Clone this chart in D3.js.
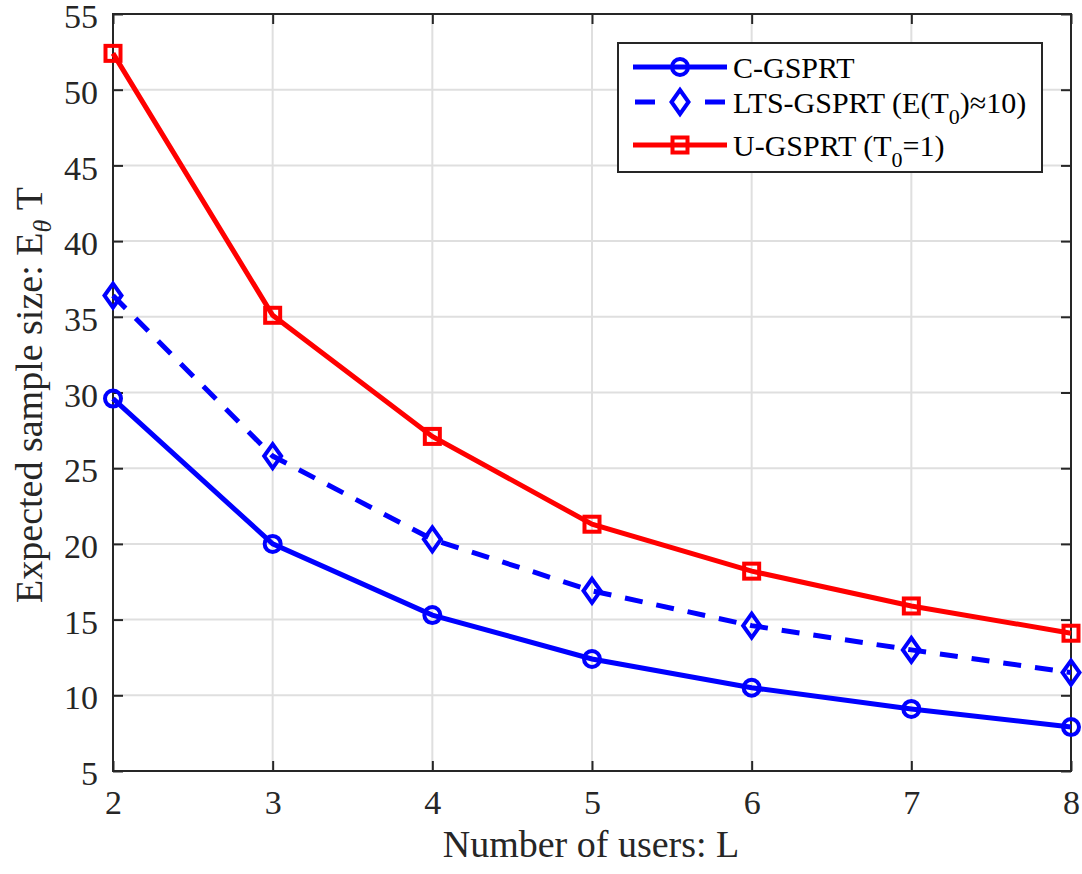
<!DOCTYPE html>
<html>
<head>
<meta charset="utf-8">
<script src="https://cdn.jsdelivr.net/npm/d3@7"></script>
<style>
  body { margin: 0; background: #ffffff; }
  svg text { font-family: "Liberation Serif", "Times New Roman", serif; fill: #262626; }
</style>
</head>
<body>
<svg id="chart" width="1082" height="874"></svg>
<script>
// data
const users = [2, 3, 4, 5, 6, 7, 8];
const cGsprt = [29.6, 20.0, 15.3, 12.4, 10.5, 9.1, 7.9];
const ltsGsprt = [36.4, 25.8, 20.3, 16.9, 14.6, 13.0, 11.5];
const uGsprt = [52.4, 35.1, 27.1, 21.3, 18.2, 15.9, 14.1];
const yTicks = [5, 10, 15, 20, 25, 30, 35, 40, 45, 50, 55];
const xTicks = [2, 3, 4, 5, 6, 7, 8];

const svg = d3.select("#chart");
const pLeft = 113, pRight = 1071, pTop = 14, pBottom = 771;

const x = d3.scaleLinear().domain([2, 8]).range([pLeft, pRight]);
const y = d3.scaleLinear().domain([5, 55]).range([pBottom, pTop]);

// grid
let g_grid = svg.append("g");
g_grid.selectAll("line.gx").data(xTicks).enter().append("line")
    .attr("x1", d => x(d)).attr("x2", d => x(d))
    .attr("y1", pTop).attr("y2", pBottom)
    .attr("stroke", "#dfdfdf").attr("stroke-width", 2);
g_grid.selectAll("line.gy").data(yTicks).enter().append("line")
    .attr("x1", pLeft).attr("x2", pRight)
    .attr("y1", d => y(d)).attr("y2", d => y(d))
    .attr("stroke", "#dfdfdf").attr("stroke-width", 2);

// axes with inward ticks on all sides
const tickLen = 10;
let g_xaxis = svg.append("g").attr("transform", `translate(0,${pBottom})`)
    .call(d3.axisBottom(x).tickValues(xTicks).tickSize(-tickLen).tickPadding(19).tickFormat(d3.format("d")))
    .call(g => g.select(".domain").remove());
svg.append("g").attr("transform", `translate(0,${pTop})`)
    .call(d3.axisTop(x).tickValues(xTicks).tickSize(-tickLen).tickFormat(""))
    .call(g => g.select(".domain").remove());
let g_yaxis = svg.append("g").attr("transform", `translate(${pLeft},0)`)
    .call(d3.axisLeft(y).tickValues(yTicks).tickSize(-tickLen).tickPadding(15).tickFormat(d3.format("d")))
    .call(g => g.select(".domain").remove());
svg.append("g").attr("transform", `translate(${pRight},0)`)
    .call(d3.axisRight(y).tickValues(yTicks).tickSize(-tickLen).tickFormat(""))
    .call(g => g.select(".domain").remove());
svg.selectAll(".tick line").attr("stroke", "#262626").attr("stroke-width", 2);
svg.selectAll(".tick text")
    .style("font-size", "34px")
    .attr("fill", "#262626");
g_yaxis.selectAll(".tick text").attr("dy", "0.4em");

svg.append("rect")
    .attr("x", pLeft).attr("y", pTop)
    .attr("width", pRight - pLeft).attr("height", pBottom - pTop)
    .attr("fill", "none").attr("stroke", "#262626").attr("stroke-width", 2);

// series
const line = d3.line().x((d, i) => x(users[i])).y(d => y(d));
const series = [
    { name: "c", data: cGsprt, color: "#0000ff", dash: null, marker: "circle" },
    { name: "lts", data: ltsGsprt, color: "#0000ff", dash: "18,14", marker: "diamond" },
    { name: "u", data: uGsprt, color: "#ff0000", dash: null, marker: "square" }
];

function fn_marker(g, type, cx, cy, color) {
    if (type == "circle") {
        g.append("circle").attr("cx", cx).attr("cy", cy).attr("r", 8)
            .attr("fill", "none").attr("stroke", color).attr("stroke-width", 4);
    } else if (type == "diamond") {
        g.append("path")
            .attr("d", `M${cx},${cy - 12}L${cx + 8.5},${cy}L${cx},${cy + 12}L${cx - 8.5},${cy}Z`)
            .attr("fill", "none").attr("stroke", color).attr("stroke-width", 4);
    } else {
        g.append("rect").attr("x", cx - 7.5).attr("y", cy - 7.5).attr("width", 15).attr("height", 15)
            .attr("fill", "none").attr("stroke", color).attr("stroke-width", 4);
    }
}

series.forEach(s => {
    let g_s = svg.append("g");
    g_s.append("path").datum(s.data)
        .attr("d", line)
        .attr("fill", "none")
        .attr("stroke", s.color)
        .attr("stroke-width", 5)
        .attr("stroke-dasharray", s.dash);
    s.data.forEach((v, i) => fn_marker(g_s, s.marker, x(users[i]), y(v), s.color));
});

// legend
const lg = svg.append("g");
lg.append("rect").attr("x", 618).attr("y", 43).attr("width", 424).attr("height", 129)
    .attr("fill", "#ffffff").attr("stroke", "#262626").attr("stroke-width", 2);
const legendRows = [
    { s: series[0], y: 67 },
    { s: series[1], y: 102 },
    { s: series[2], y: 145 }
];
legendRows.forEach(r => {
    lg.append("line").attr("x1", 633).attr("x2", 727).attr("y1", r.y).attr("y2", r.y)
        .attr("stroke", r.s.color).attr("stroke-width", 5)
        .attr("stroke-dasharray", r.s.dash ? "20,50" : null)
        .attr("stroke-dashoffset", r.s.dash ? -2 : null);
    fn_marker(lg, r.s.marker, 680, r.y, r.s.color);
});
const legFont = "30px";
lg.append("text").attr("x", 733).attr("y", 78).style("font-size", legFont).style("fill", "#000").text("C-GSPRT");
let t2 = lg.append("text").attr("x", 733).attr("y", 113).style("font-size", legFont).style("fill", "#000");
t2.append("tspan").text("LTS-GSPRT (E(T");
t2.append("tspan").attr("dy", 11).style("font-size", "22px").text("0");
t2.append("tspan").attr("dy", -11).text(")\u224810)");
let t3 = lg.append("text").attr("x", 733).attr("y", 156).style("font-size", legFont).style("fill", "#000");
t3.append("tspan").text("U-GSPRT (T");
t3.append("tspan").attr("dy", 11).style("font-size", "22px").text("0");
t3.append("tspan").attr("dy", -11).text("=1)");

// axis labels
svg.append("text").attr("x", 591).attr("y", 857)
    .attr("text-anchor", "middle").style("font-size", "38px").text("Number of users: L");
let yl = svg.append("text")
    .attr("transform", `translate(42,395) rotate(-90)`)
    .attr("text-anchor", "middle").style("font-size", "38px");
yl.append("tspan").text("Expected sample size: E");
yl.append("tspan").attr("dy", 9).style("font-size", "26px").style("font-style", "italic").text("\u03b8");
yl.append("tspan").attr("dy", -9).text(" T");
</script>
</body>
</html>
